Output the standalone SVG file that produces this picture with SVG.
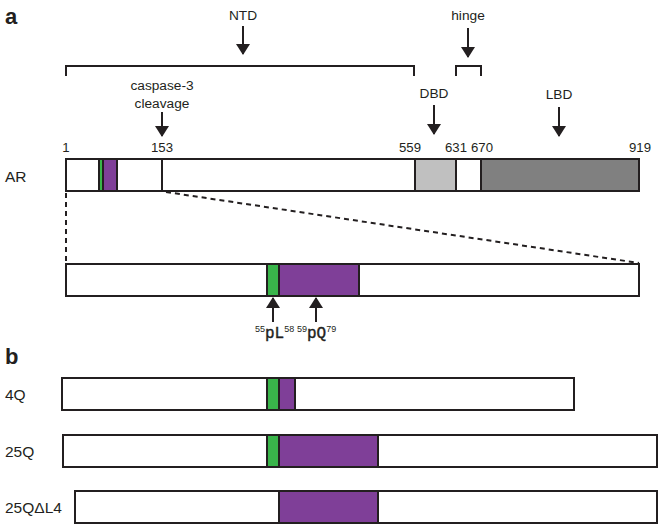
<svg xmlns="http://www.w3.org/2000/svg" width="659" height="525" viewBox="0 0 659 525">
<style>
.t{font-family:"Liberation Sans",Arial,sans-serif;font-size:13.7px;fill:#231f20}
.n{font-family:"Liberation Sans",Arial,sans-serif;font-size:13.2px;fill:#231f20}
.l{font-family:"Liberation Sans",Arial,sans-serif;font-size:15.5px;fill:#231f20}
.h{font-family:"Liberation Sans",Arial,sans-serif;font-size:22px;font-weight:bold;fill:#231f20}
.m{font-family:"Liberation Mono","Courier New",monospace;font-size:16px;fill:#231f20;stroke:#231f20;stroke-width:0.4}
.s{font-family:"Liberation Sans",Arial,sans-serif;font-size:9px;fill:#231f20}
.bar{fill:#fff;stroke:#231f20;stroke-width:2}
.seg{stroke:#231f20;stroke-width:2}
.ln{fill:none;stroke:#231f20;stroke-width:2}
.dash{fill:none;stroke:#231f20;stroke-width:2;stroke-dasharray:5,4}
.g{fill:#39b54a}
.p{fill:#7f3f98}
</style>
<defs>
<marker id="ah" viewBox="0 0 11 14" refX="10" refY="7" markerWidth="5.5" markerHeight="7" markerUnits="strokeWidth" orient="auto">
<path d="M0,0 L11,7 L0,14 Z" fill="#231f20"/>
</marker>
</defs>
<text class="h" x="5" y="24">a</text>
<text class="h" x="5" y="364">b</text>

<g id="connectors">
<path class="ln" d="M66,76 V66 H414 V76"/>
<path class="ln" d="M456,76 V66 H481 V76"/>
<line class="ln" x1="243" y1="26" x2="243" y2="54" marker-end="url(#ah)"/>
<line class="ln" x1="468" y1="28" x2="468" y2="57" marker-end="url(#ah)"/>
<line class="ln" x1="162" y1="112" x2="162" y2="136" marker-end="url(#ah)"/>
<line class="ln" x1="434" y1="105" x2="434" y2="134" marker-end="url(#ah)"/>
<line class="ln" x1="559" y1="107" x2="559" y2="136" marker-end="url(#ah)"/>
<line class="dash" x1="66" y1="193" x2="66" y2="263"/>
<line class="dash" x1="166" y1="192" x2="639" y2="263"/>
<line class="ln" x1="273" y1="322" x2="273" y2="298" marker-end="url(#ah)"/>
<line class="ln" x1="316" y1="322" x2="316" y2="298" marker-end="url(#ah)"/>
</g>

<g id="labels-a">
<text class="t" x="243" y="20" text-anchor="middle">NTD</text>
<text class="t" x="468" y="20" text-anchor="middle">hinge</text>
<text class="t" x="162" y="90" text-anchor="middle">caspase-3</text>
<text class="t" x="162" y="108" text-anchor="middle">cleavage</text>
<text class="t" x="434" y="98" text-anchor="middle">DBD</text>
<text class="t" x="559" y="99" text-anchor="middle">LBD</text>
<text class="n" x="66" y="152" text-anchor="middle">1</text>
<text class="n" x="162" y="152" text-anchor="middle">153</text>
<text class="n" x="410" y="152" text-anchor="middle">559</text>
<text class="n" x="456" y="152" text-anchor="middle">631</text>
<text class="n" x="482" y="152" text-anchor="middle">670</text>
<text class="n" x="640" y="152" text-anchor="middle">919</text>
</g>

<g id="AR">
<text class="l" x="5" y="182">AR</text>
<rect class="bar" x="66" y="159" width="573" height="32"/>
<rect class="g" x="99" y="159" width="4" height="32"/>
<rect class="p" x="103" y="159" width="14" height="32"/>
<line class="seg" x1="99" y1="159" x2="99" y2="191"/>
<line class="seg" x1="103" y1="159" x2="103" y2="191"/>
<line class="seg" x1="117" y1="159" x2="117" y2="191"/>
<line class="seg" x1="162" y1="159" x2="162" y2="191"/>
<rect x="415" y="159" width="41" height="32" fill="#c0c0c0"/>
<rect x="481" y="159" width="158" height="32" fill="#808080"/>
<line class="seg" x1="415" y1="159" x2="415" y2="191"/>
<line class="seg" x1="456" y1="159" x2="456" y2="191"/>
<line class="seg" x1="481" y1="159" x2="481" y2="191"/>
<rect x="66" y="159" width="573" height="32" fill="none" stroke="#231f20" stroke-width="2"/>
</g>

<g id="detail">
<rect class="bar" x="66" y="264" width="573" height="32"/>
<rect class="g" x="267" y="264" width="12" height="32"/>
<rect class="p" x="279" y="264" width="80" height="32"/>
<line class="seg" x1="267" y1="264" x2="267" y2="296"/>
<line class="seg" x1="279" y1="264" x2="279" y2="296"/>
<line class="seg" x1="359" y1="264" x2="359" y2="296"/>
<rect x="66" y="264" width="573" height="32" fill="none" stroke="#231f20" stroke-width="2"/>
<text x="255" y="338"><tspan class="s" dy="-6">55</tspan><tspan class="m" dy="6">pL</tspan><tspan class="s" dy="-6">58</tspan></text>
<text x="297" y="338"><tspan class="s" dy="-6">59</tspan><tspan class="m" dy="6">pQ</tspan><tspan class="s" dy="-6">79</tspan></text>
</g>

<g id="q4">
<text class="l" x="5" y="400">4Q</text>
<rect class="bar" x="62" y="378" width="512" height="32"/>
<rect class="g" x="267" y="378" width="12" height="32"/>
<rect class="p" x="279" y="378" width="16" height="32"/>
<line class="seg" x1="267" y1="378" x2="267" y2="410"/>
<line class="seg" x1="279" y1="378" x2="279" y2="410"/>
<line class="seg" x1="295" y1="378" x2="295" y2="410"/>
<rect x="62" y="378" width="512" height="32" fill="none" stroke="#231f20" stroke-width="2"/>
</g>

<g id="q25">
<text class="l" x="5" y="457">25Q</text>
<rect class="bar" x="63" y="435" width="594" height="32"/>
<rect class="g" x="267" y="435" width="12" height="32"/>
<rect class="p" x="279" y="435" width="99" height="32"/>
<line class="seg" x1="267" y1="435" x2="267" y2="467"/>
<line class="seg" x1="279" y1="435" x2="279" y2="467"/>
<line class="seg" x1="378" y1="435" x2="378" y2="467"/>
<rect x="63" y="435" width="594" height="32" fill="none" stroke="#231f20" stroke-width="2"/>
</g>

<g id="q25dL4">
<text class="l" x="5" y="513">25QΔL4</text>
<rect class="bar" x="75" y="491" width="582" height="32"/>
<rect class="p" x="279" y="491" width="99" height="32"/>
<line class="seg" x1="279" y1="491" x2="279" y2="523"/>
<line class="seg" x1="378" y1="491" x2="378" y2="523"/>
<rect x="75" y="491" width="582" height="32" fill="none" stroke="#231f20" stroke-width="2"/>
</g>
</svg>
